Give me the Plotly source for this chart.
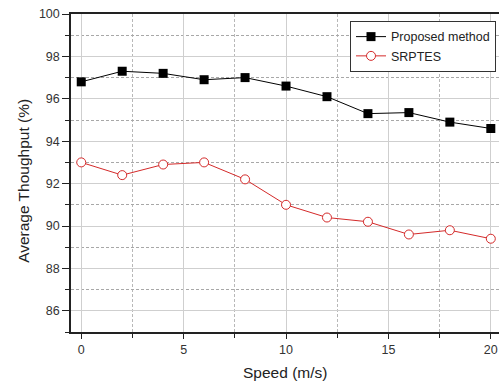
import plotly.graph_objects as go

speed = [0, 2, 4, 6, 8, 10, 12, 14, 16, 18, 20]
proposed = [96.8, 97.3, 97.2, 96.9, 97.0, 96.6, 96.1, 95.3, 95.35, 94.9, 94.6]
srptes = [93.0, 92.4, 92.9, 93.0, 92.2, 91.0, 90.4, 90.2, 89.6, 89.8, 89.4]
x_title = "Speed (m/s)"
y_title = "Average Thoughput (%)"

fig = go.Figure()
fig.add_trace(go.Scatter(
    x=speed, y=proposed, name="Proposed method", mode="lines+markers",
    line=dict(color="black", width=1),
    marker=dict(symbol="square", size=9, color="black"),
))
fig.add_trace(go.Scatter(
    x=speed, y=srptes, name="SRPTES", mode="lines+markers",
    line=dict(color="#d42a2a", width=1),
    marker=dict(symbol="circle", size=9, color="white",
                line=dict(color="#d42a2a", width=1)),
))

axis_font = dict(family="Arial, Liberation Sans", size=12.5, color="#333333")
title_font = dict(family="Arial, Liberation Sans", size=15.5, color="#222222")
fig.update_layout(
    width=499, height=385,
    margin=dict(l=71, r=0, t=14, b=53),
    paper_bgcolor="white", plot_bgcolor="white",
    font=dict(family="Arial, Liberation Sans", color="#222222"),
    showlegend=True,
    legend=dict(x=0.993, y=0.978, xanchor="right", yanchor="top",
                bordercolor="#333333", borderwidth=1, bgcolor="white",
                font=dict(size=12.5, color="#222222"),
                tracegroupgap=0, itemwidth=30),
    xaxis=dict(
        range=[-0.5, 20.4], tickvals=[0, 5, 10, 15, 20],
        showline=True, linecolor="#222222", linewidth=1.5, mirror=True,
        ticks="outside", ticklen=5, tickcolor="#222222",
        showgrid=True, gridcolor="#cfcfcf", gridwidth=1,
        minor=dict(dtick=2.5, tick0=0, showgrid=True, gridcolor="#b8b8b8",
                   griddash="3px,2px", ticks="outside", ticklen=4, tickcolor="#222222"),
        tickfont=axis_font, zeroline=False, automargin=False,
        ticklabeloverflow="allow",
    ),
    yaxis=dict(
        range=[85, 100], tickvals=[86, 88, 90, 92, 94, 96, 98, 100],
        showline=True, linecolor="#222222", linewidth=1.5,
        ticks="outside", ticklen=7, tickcolor="#222222",
        showgrid=True, gridcolor="#cfcfcf", gridwidth=1,
        minor=dict(dtick=1, tick0=85, showgrid=True, gridcolor="#a8a8a8",
                   griddash="3px,2px", ticks="outside", ticklen=4, tickcolor="#222222"),
        tickfont=axis_font, zeroline=False, automargin=False,
        ticklabeloverflow="allow",
    ),
    annotations=[
        dict(text=x_title, xref="paper", yref="paper", x=0.501, y=-0.1258,
             xanchor="center", yanchor="middle", showarrow=False, font=title_font),
        dict(text=y_title, xref="paper", yref="paper", x=-0.11, y=0.475,
             xanchor="center", yanchor="middle", textangle=-90, showarrow=False,
             font=title_font),
    ],
)

fig.write_html(
    "out.html",
    config={"displayModeBar": False},
    post_script="document.body.style.margin='0';document.body.style.overflow='hidden';",
)
